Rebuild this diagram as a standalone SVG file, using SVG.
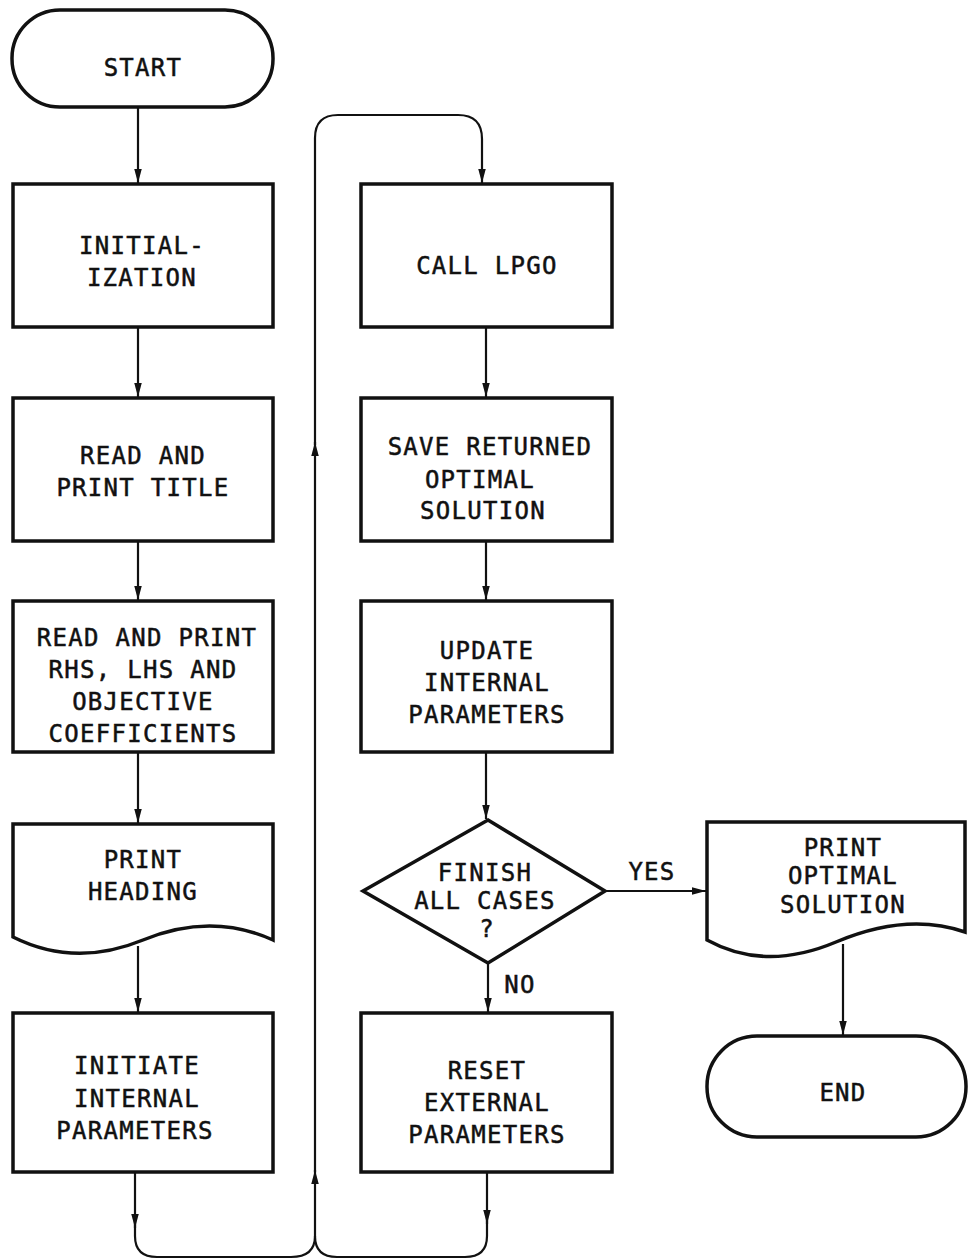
<svg xmlns="http://www.w3.org/2000/svg" width="969" height="1260" viewBox="0 0 969 1260">
<defs>
<style>
.shape{fill:#fff;stroke:#111;stroke-width:3.5;stroke-linejoin:miter}
.conn{fill:none;stroke:#111;stroke-width:2.2}
text{font-family:"DejaVu Sans Mono","Liberation Mono",monospace;font-size:24px;fill:#111;stroke:#111;stroke-width:0.5;text-anchor:middle;letter-spacing:1.3px}
</style>
<marker id="ah" viewBox="0 0 10 16" refX="10" refY="8" markerWidth="14" markerHeight="10" markerUnits="userSpaceOnUse" orient="auto" preserveAspectRatio="none">
<path d="M0,2 L10,8 L0,14 Z" fill="#111"/>
</marker>
</defs>
<rect width="969" height="1260" fill="#fff"/>
<g id="connectors">
<path class="conn" d="M138,107 V183" marker-end="url(#ah)"/>
<path class="conn" d="M138,327 V397" marker-end="url(#ah)"/>
<path class="conn" d="M138,541 V600" marker-end="url(#ah)"/>
<path class="conn" d="M138,752 V823" marker-end="url(#ah)"/>
<path class="conn" d="M138,946 V1012" marker-end="url(#ah)"/>
<path class="conn" d="M135,1172 V1228" marker-end="url(#ah)"/>
<path class="conn" d="M135,1220 V1236 Q135,1257 157,1257 H291 Q315,1257 315,1236"/>
<path class="conn" d="M487,1172 V1224" marker-end="url(#ah)"/>
<path class="conn" d="M487,1216 V1236 Q487,1257 465,1257 H337 Q315,1257 315,1236"/>
<path class="conn" d="M315,1236 V1170" marker-end="url(#ah)"/>
<path class="conn" d="M315,1172 V442" marker-end="url(#ah)"/>
<path class="conn" d="M315,445 V138 Q315,115 338,115 H458 Q482,115 482,139 V183" marker-end="url(#ah)"/>
<path class="conn" d="M486,327 V397" marker-end="url(#ah)"/>
<path class="conn" d="M486,541 V600" marker-end="url(#ah)"/>
<path class="conn" d="M486,752 V819" marker-end="url(#ah)"/>
<path class="conn" d="M488,963 V1012" marker-end="url(#ah)"/>
<path class="conn" d="M605,891 H706" marker-end="url(#ah)"/>
<path class="conn" d="M843,944 V1035" marker-end="url(#ah)"/>
<text x="652" y="880">YES</text>
<text x="520" y="993">NO</text>
</g>
<g id="start">
<rect class="shape" x="12" y="10" width="261" height="97" rx="48" ry="48"/>
<text x="143" y="76">START</text>
</g>
<g id="init">
<rect class="shape" x="13" y="184" width="260" height="143"/>
<text x="142" y="254">INITIAL-</text>
<text x="142" y="286">IZATION</text>
</g>
<g id="readTitle">
<rect class="shape" x="13" y="398" width="260" height="143"/>
<text x="143" y="464">READ AND</text>
<text x="143" y="496">PRINT TITLE</text>
</g>
<g id="readRHS">
<rect class="shape" x="13" y="601" width="260" height="151"/>
<text x="147" y="646">READ AND PRINT</text>
<text x="143" y="678">RHS, LHS AND</text>
<text x="143" y="710">OBJECTIVE</text>
<text x="143" y="742">COEFFICIENTS</text>
</g>
<g id="printHeading">
<path class="shape" d="M13,824 H273 V940 Q211,912 143,940 Q75,968 13,937 Z"/>
<text x="143" y="868">PRINT</text>
<text x="143" y="900">HEADING</text>
</g>
<g id="initiate">
<rect class="shape" x="13" y="1013" width="260" height="159"/>
<text x="137" y="1074">INITIATE</text>
<text x="137" y="1107">INTERNAL</text>
<text x="135" y="1139">PARAMETERS</text>
</g>
<g id="callLPGO">
<rect class="shape" x="361" y="184" width="251" height="143"/>
<text x="487" y="274">CALL LPGO</text>
</g>
<g id="save">
<rect class="shape" x="361" y="398" width="251" height="143"/>
<text x="490" y="455">SAVE RETURNED</text>
<text x="480" y="488">OPTIMAL</text>
<text x="483" y="519">SOLUTION</text>
</g>
<g id="update">
<rect class="shape" x="361" y="601" width="251" height="151"/>
<text x="487" y="659">UPDATE</text>
<text x="487" y="691">INTERNAL</text>
<text x="487" y="723">PARAMETERS</text>
</g>
<g id="decision">
<path class="shape" d="M488,820 L605,891 L488,963 L363,891 Z"/>
<text x="485" y="881">FINISH</text>
<text x="485" y="909">ALL CASES</text>
<text x="487" y="937">?</text>
</g>
<g id="reset">
<rect class="shape" x="361" y="1013" width="251" height="159"/>
<text x="487" y="1079">RESET</text>
<text x="487" y="1111">EXTERNAL</text>
<text x="487" y="1143">PARAMETERS</text>
</g>
<g id="printOptimal">
<path class="shape" d="M707,822 H965 V932 Q907,912 836,942 Q765,972 707,940 Z"/>
<text x="843" y="856">PRINT</text>
<text x="843" y="884">OPTIMAL</text>
<text x="843" y="913">SOLUTION</text>
</g>
<g id="end">
<rect class="shape" x="707" y="1036" width="259" height="101" rx="50" ry="50"/>
<text x="843" y="1101">END</text>
</g>
</svg>
